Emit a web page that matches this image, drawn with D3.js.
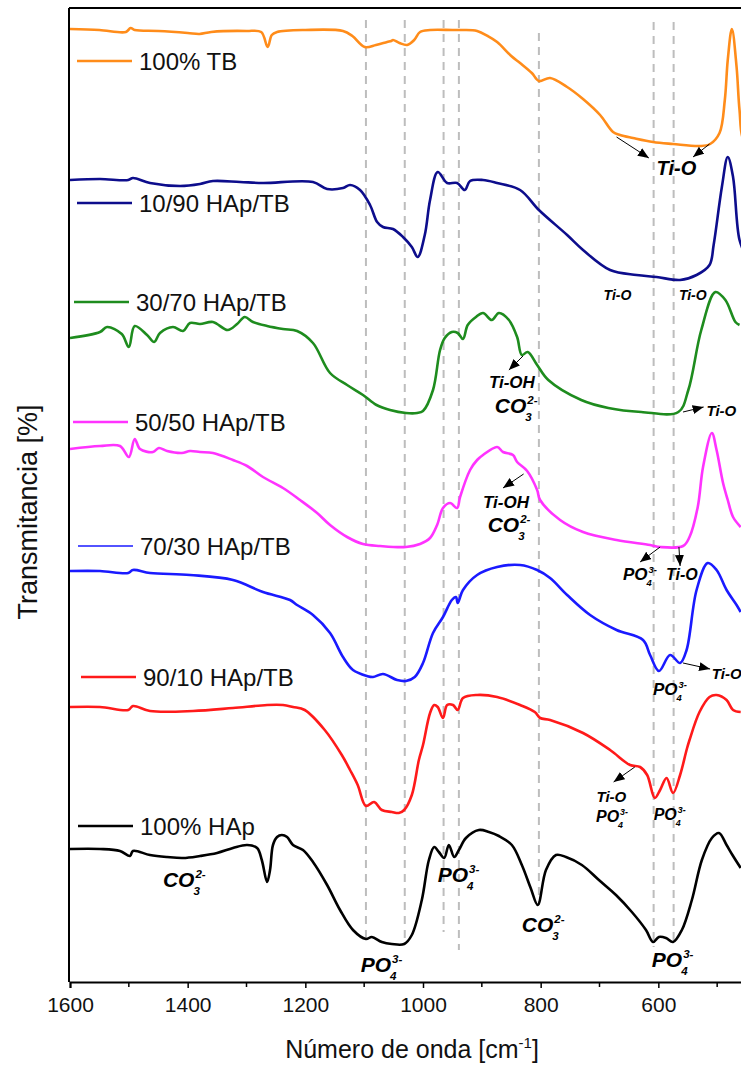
<!DOCTYPE html>
<html>
<head>
<meta charset="utf-8">
<script src="https://cdn.jsdelivr.net/npm/d3@7"></script>
<style>
  html, body { margin: 0; padding: 0; background: #fff; }
  svg { display: block; font-family: "Liberation Sans", Arial, sans-serif; }
</style>
</head>
<body>
<svg id="chart" width="741" height="1067"></svg>
<script>
// ---------------- DATA (wavenumber cm-1, offset transmittance a.u.) ----------------
const tb100 = [[1600,95.3],[1550,95.2],[1505,95.0],[1497,95.4],[1490,95.2],[1450,95.1],[1400,94.9],[1380,94.8],[1360,95.0],[1300,95.1],[1275,95.0],[1264,93.5],[1257,94.7],[1248,95.0],[1200,95.2],[1136,95.1],[1120,94.6],[1099,93.5],[1080,93.7],[1061,94.0],[1054,94.1],[1051,94.2],[1040,93.9],[1027,93.7],[1015,94.2],[1005,95.0],[988,95.2],[950,95.2],[932,95.2],[908,95.1],[890,94.6],[874,94.0],[850,92.6],[835,91.9],[815,90.9],[803,90.1],[784,90.4],[755,89.5],[728,88.3],[699,86.7],[677,85.0],[665,84.7],[643,84.4],[609,84.0],[575,83.8],[529,83.6],[512,83.8],[496,84.9],[487,88.2],[482,92.2],[475,95.3],[467,91.5],[462,87.2],[455,84.2],[440,83.7]];
const hap10 = [[1600,80.2],[1549,80.3],[1501,80.2],[1493,80.4],[1464,79.9],[1413,79.6],[1379,79.8],[1357,80.1],[1311,80.0],[1272,79.9],[1187,80.0],[1163,79.3],[1136,79.4],[1124,79.7],[1107,79.2],[1090,77.7],[1078,76.0],[1068,75.5],[1051,75.3],[1034,74.5],[1019,73.5],[1009,72.5],[997,74.7],[988,78.2],[975,81.0],[959,79.9],[942,79.9],[929,79.2],[920,80.1],[898,80.2],[874,79.9],[835,79.2],[803,77.2],[755,74.7],[728,73.2],[682,71.2],[637,70.7],[603,70.5],[563,70.2],[535,70.7],[513,71.7],[506,73.7],[492,79.5],[482,82.5],[473,80.5],[462,74.2],[450,72.5]];
const hap30 = [[1600,64.4],[1549,65.0],[1537,65.5],[1512,64.8],[1500,63.5],[1490,65.6],[1469,64.7],[1457,64.0],[1447,64.9],[1425,65.5],[1408,65.1],[1396,65.9],[1379,65.8],[1357,66.0],[1332,65.2],[1316,65.8],[1303,66.5],[1289,66.0],[1265,65.6],[1238,65.3],[1214,65.1],[1187,63.9],[1158,60.9],[1129,59.7],[1102,58.7],[1079,57.7],[1056,57.2],[1029,56.9],[1010,56.9],[1000,57.1],[983,59.2],[971,63.2],[963,64.4],[951,65.0],[941,64.9],[932,64.3],[924,65.7],[910,66.5],[898,66.9],[883,66.2],[871,66.9],[854,66.2],[840,64.5],[832,62.7],[822,63.0],[806,61.7],[787,60.2],[731,58.2],[685,57.4],[629,57.0],[566,57.0],[549,59.2],[527,65.2],[503,69.0],[486,68.2],[469,66.0],[462,65.7]];
const hap50 = [[1600,53.3],[1549,53.6],[1515,53.6],[1500,52.5],[1490,54.3],[1481,53.3],[1459,53.0],[1449,53.4],[1435,53.1],[1410,52.9],[1396,53.1],[1379,53.0],[1357,52.9],[1323,52.2],[1299,51.6],[1272,50.5],[1238,49.4],[1209,48.2],[1180,46.9],[1158,45.7],[1129,44.5],[1102,43.8],[1073,43.6],[1029,43.5],[1005,43.8],[988,44.4],[976,45.7],[966,47.4],[954,47.9],[942,47.4],[937,48.5],[920,51.2],[908,52.2],[898,52.7],[874,53.5],[864,53.0],[847,52.7],[840,52.0],[823,51.1],[806,49.2],[801,48.2],[767,46.2],[728,45.0],[671,44.2],[614,43.7],[597,43.5],[558,43.6],[547,44.5],[533,47.5],[524,51.5],[509,54.9],[501,53.2],[490,49.9],[482,48.2],[473,46.5],[460,45.5]];
const hap70 = [[1600,41.1],[1549,41.1],[1501,40.9],[1493,41.2],[1464,40.9],[1396,40.7],[1323,40.2],[1272,39.0],[1226,38.2],[1214,37.7],[1187,36.7],[1158,34.9],[1136,32.5],[1119,31.2],[1095,30.6],[1085,30.5],[1068,30.8],[1044,30.2],[1029,30.1],[1014,30.5],[1000,31.9],[983,34.9],[966,36.5],[951,38.2],[944,38.5],[941,37.9],[932,39.2],[908,40.7],[874,41.5],[835,41.7],[806,41.2],[784,40.4],[755,38.7],[716,36.7],[671,35.2],[626,34.2],[614,32.7],[599,31.1],[580,32.7],[563,31.9],[552,33.2],[535,39.2],[516,41.9],[501,41.2],[484,39.2],[467,37.7],[460,37.0]];
const hap90 = [[1600,27.5],[1549,27.5],[1501,27.2],[1493,27.6],[1464,27.1],[1391,27.1],[1323,27.4],[1265,27.7],[1238,27.7],[1221,27.5],[1201,27.2],[1167,25.2],[1138,22.7],[1124,21.2],[1111,19.7],[1097,17.6],[1083,18.0],[1070,17.2],[1053,17.0],[1041,16.9],[1032,17.2],[1019,18.7],[1007,22.2],[1000,23.7],[988,26.9],[981,27.7],[975,27.5],[966,26.4],[959,27.7],[949,27.7],[941,27.2],[932,28.4],[908,28.7],[874,28.5],[835,27.7],[810,27.0],[801,26.4],[784,26.2],[728,24.9],[682,23.2],[648,21.7],[631,21.5],[619,20.7],[606,18.4],[597,19.2],[586,20.4],[575,18.9],[563,20.7],[552,23.2],[547,24.2],[530,27.0],[513,28.5],[501,28.7],[484,28.2],[473,27.2],[460,27.0]];
const hap100 = [[1600,13.3],[1549,13.3],[1515,13.1],[1498,12.6],[1493,13.1],[1464,12.7],[1435,12.5],[1408,12.4],[1379,12.6],[1350,12.9],[1323,13.4],[1299,13.7],[1282,13.4],[1274,12.2],[1265,10.0],[1260,11.2],[1255,13.7],[1248,14.5],[1240,14.7],[1231,14.5],[1221,13.7],[1204,13.2],[1187,12.0],[1163,9.7],[1141,7.2],[1119,5.2],[1097,4.3],[1087,4.5],[1070,4.0],[1053,3.8],[1032,3.8],[1019,4.7],[1002,8.2],[990,12.2],[981,13.5],[973,13.0],[964,12.4],[956,13.7],[947,12.5],[939,13.2],[927,14.4],[905,15.2],[888,15.0],[871,14.6],[849,13.7],[832,11.7],[817,9.4],[805,7.7],[791,11.2],[774,12.7],[757,12.5],[730,11.7],[701,10.2],[672,8.7],[645,7.0],[621,5.2],[609,4.0],[599,4.5],[587,4.4],[575,4.0],[560,5.2],[543,8.2],[526,12.2],[509,14.4],[497,14.9],[484,13.7],[474,12.7],[460,11.4]];

const seriesNames  = ["100% TB","10/90 HAp/TB","30/70 HAp/TB","50/50 HAp/TB","70/30 HAp/TB","90/10 HAp/TB","100% HAp"];
const seriesData   = [tb100, hap10, hap30, hap50, hap70, hap90, hap100];
const seriesColors = ["#FF8C1A","#0D0D8C","#1E8C1E","#FF33FF","#1A1AFF","#FF1A1A","#000000"];

// reference bands (dashed lines): wavenumber, top value, bottom value
const bandWaves  = [1097, 1031, 965, 939, 803, 608, 574];
const bandTop    = [96.2, 96.2, 96.2, 96.2, 94.9, 96.0, 96.0];
const bandBottom = [4.2, 3.7, 5.0, 3.2, 7.7, 3.5, 3.9];

const majorTicks = [1600, 1400, 1200, 1000, 800, 600];
const minorTicks = [1500, 1300, 1100, 900, 700, 500];

// annotations: [wavenumber, value, base, sub, sup, fontSize]
const labels = [
  [603, 80.7, "Ti-O", "", "", 20],
  [693, 68.2, "Ti-O", "", "", 14],
  [565, 68.2, "Ti-O", "", "", 14],
  [888, 59.4, "Ti-OH", "", "", 17],
  [878, 56.9, "CO", "3", "2-", 21],
  [518, 56.6, "Ti-O", "", "", 15],
  [898, 47.4, "Ti-OH", "", "", 17],
  [890, 45.0, "CO", "3", "2-", 21],
  [660, 40.2, "PO", "4", "3-", 17],
  [587, 40.2, "Ti-O", "", "", 16],
  [509, 30.3, "Ti-O", "", "", 15],
  [609, 28.7, "PO", "4", "3-", 17],
  [705, 18.0, "Ti-O", "", "", 15],
  [706, 16.0, "PO", "4", "3-", 16],
  [608, 16.2, "PO", "4", "3-", 16],
  [1442, 9.5, "CO", "3", "2-", 21],
  [975, 10.0, "PO", "4", "3-", 21],
  [1106, 1.0, "PO", "4", "3-", 21],
  [832, 5.0, "CO", "3", "2-", 21],
  [611, 1.5, "PO", "4", "3-", 21]
];
// arrows: [w1, v1, w2, v2]
const arrows = [
  [671, 84.5, 616, 82.4],
  [513, 83.8, 541, 82.5],
  [830, 62.6, 854, 61.2],
  [558, 57.0, 523, 57.5],
  [829, 50.8, 864, 49.4],
  [597, 43.5, 631, 42.0],
  [565, 43.5, 563, 41.6],
  [558, 31.9, 512, 31.3],
  [640, 21.5, 676, 20.0]
];

// ---------------- LAYOUT ----------------
const W = 741, H = 1067;
const plotL = 70, plotT = 8, plotB = 982;
const x = d3.scaleLinear().domain([1600, 400]).range([plotL, 776]);
const y = d3.scaleLinear().domain([0, 97.4]).range([plotB, plotT]);
const FONT = '"Liberation Sans", Arial, sans-serif';

const svg = d3.select("#chart");
svg.append("rect").attr("width", W).attr("height", H).attr("fill", "#fff");

const defs = svg.append("defs");
defs.append("clipPath").attr("id", "plotclip").append("rect")
  .attr("x", plotL).attr("y", plotT).attr("width", 776 - plotL).attr("height", plotB - plotT);
defs.append("marker").attr("id", "ah").attr("markerUnits", "userSpaceOnUse")
  .attr("markerWidth", 12).attr("markerHeight", 10).attr("refX", 11).attr("refY", 4.5)
  .attr("orient", "auto")
  .append("path").attr("d", "M0,0 L11,4.5 L0,9 Z").attr("fill", "#000");

// dashed band lines
svg.append("g").selectAll("line").data(bandWaves).join("line")
  .attr("x1", d => x(d)).attr("x2", d => x(d))
  .attr("y1", (d, i) => y(bandTop[i])).attr("y2", (d, i) => y(bandBottom[i]))
  .attr("stroke", "#BDBDBD").attr("stroke-width", 2).attr("stroke-dasharray", "8,6");

// spectra
const line = d3.line().x(d => x(d[0])).y(d => y(d[1])).curve(d3.curveCatmullRom.alpha(0.5));
const plot = svg.append("g").attr("clip-path", "url(#plotclip)");
seriesData.forEach((s, i) => {
  plot.append("path").datum(s).attr("d", line)
    .attr("fill", "none").attr("stroke", seriesColors[i])
    .attr("stroke-width", 2.6).attr("stroke-linejoin", "round");
});

// legends
const legendY = [61, 203, 302, 422, 546, 677, 826];
const legendX = [77, 77, 74, 73, 78, 81, 78];
seriesNames.forEach((n, i) => {
  const g = svg.append("g");
  g.append("line").attr("x1", legendX[i]).attr("x2", legendX[i] + 55)
    .attr("y1", legendY[i]).attr("y2", legendY[i])
    .attr("stroke", seriesColors[i]).attr("stroke-width", i === 4 ? 1.5 : 2.6);
  g.append("text").attr("x", legendX[i] + 62).attr("y", legendY[i] + 8.5)
    .attr("font-size", 24).attr("font-family", FONT).attr("fill", "#111").text(n);
});

// arrows
svg.append("g").selectAll("line").data(arrows).join("line")
  .attr("x1", d => x(d[0])).attr("y1", d => y(d[1]))
  .attr("x2", d => x(d[2])).attr("y2", d => y(d[3]))
  .attr("stroke", "#000").attr("stroke-width", 1).attr("marker-end", "url(#ah)");

// labels
const lg = svg.append("g").attr("font-family", FONT).attr("font-weight", "bold")
  .attr("font-style", "italic").attr("fill", "#000");
labels.forEach(l => {
  const [w, v, base, sub, sup, fs] = l;
  const px = x(w), py = y(v);
  const t = lg.append("text").attr("x", px).attr("y", py).attr("font-size", fs).text(base);
  const tw = t.node().getComputedTextLength();
  if (sup) lg.append("text").attr("x", px + tw + 1).attr("y", py - fs * 0.42)
    .attr("font-size", fs * 0.55).text(sup);
  if (sub) lg.append("text").attr("x", px + tw - 1).attr("y", py + fs * 0.38)
    .attr("font-size", fs * 0.55).text(sub);
});

// frame
svg.append("line").attr("x1", plotL - 1).attr("x2", W).attr("y1", plotT).attr("y2", plotT)
  .attr("stroke", "#000").attr("stroke-width", 2);
svg.append("line").attr("x1", plotL - 1).attr("x2", plotL - 1).attr("y1", plotT).attr("y2", plotB)
  .attr("stroke", "#000").attr("stroke-width", 2);

// x axis
const ax = svg.append("g").attr("transform", `translate(0,${plotB})`)
  .call(d3.axisBottom(x).tickValues(majorTicks).tickSize(6).tickPadding(9).tickFormat(d3.format("d")));
ax.select(".domain").attr("stroke-width", 2);
ax.selectAll(".tick line").attr("stroke-width", 1.5);
ax.selectAll(".tick text").attr("font-size", 21).attr("font-family", FONT).attr("fill", "#111");
svg.append("g").attr("transform", `translate(0,${plotB})`).selectAll("line").data(minorTicks).join("line")
  .attr("x1", d => x(d)).attr("x2", d => x(d)).attr("y1", 0).attr("y2", 5)
  .attr("stroke", "#000").attr("stroke-width", 1.5);

// axis titles
const xt = svg.append("text").attr("x", 412).attr("y", 1058).attr("text-anchor", "middle")
  .attr("font-size", 25).attr("font-family", FONT).attr("fill", "#111");
xt.append("tspan").text("Número de onda [cm");
xt.append("tspan").attr("dy", -10).attr("font-size", 15).text("-1");
xt.append("tspan").attr("dy", 10).text("]");

svg.append("text").attr("transform", "translate(37,512) rotate(-90)").attr("text-anchor", "middle")
  .attr("font-size", 27).attr("font-family", FONT).attr("fill", "#111").text("Transmitancia [%]");
</script>
</body>
</html>
